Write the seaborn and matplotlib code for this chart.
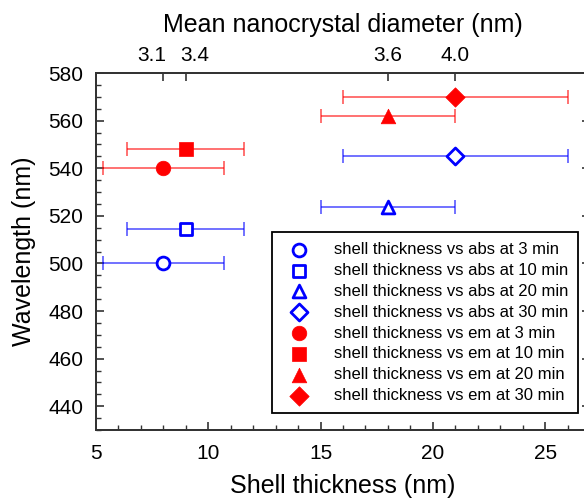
import numpy as np
import pandas as pd
import matplotlib
matplotlib.use("Agg")
import matplotlib.pyplot as plt
from matplotlib.ticker import MultipleLocator, FixedLocator
from matplotlib.transforms import ScaledTranslation
import seaborn as sns

# ---- data ----
times = ["3 min", "10 min", "20 min", "30 min"]
shell_thickness = [8, 9, 18, 21]
shell_err = [2.7, 2.6, 3.0, 5.0]
abs_wavelength = [500, 514.5, 523.5, 545]
em_wavelength = [540, 548, 562, 570]
markers = ["o", "s", "^", "D"]
diameter_labels = ["3.1", "3.4", "3.6", "4.0"]

sns.set_theme(style="ticks")
plt.rcParams["font.family"] = ["Liberation Sans", "DejaVu Sans"]
plt.rcParams["text.color"] = "black"
plt.rcParams["axes.labelcolor"] = "black"
plt.rcParams["xtick.labelcolor"] = "black"
plt.rcParams["ytick.labelcolor"] = "black"

fig = plt.figure(figsize=(5.84, 4.99), dpi=100)
ax = fig.add_axes([96 / 584, 1 - 430 / 499, (590 - 96) / 584, (430 - 73) / 499])

blue = "#0000FF"
red = "#FF0000"

# error bars
for xs, ys, col in [(shell_thickness, abs_wavelength, blue), (shell_thickness, em_wavelength, red)]:
    ax.errorbar(xs, ys, xerr=shell_err, fmt="none", ecolor=col, alpha=0.65,
                elinewidth=1.2, capsize=5, capthick=1.2, zorder=2)

sizes = {"o": 85, "s": 70, "^": 85, "D": 75}
for t, x, y, m in zip(times, shell_thickness, abs_wavelength, markers):
    df = pd.DataFrame({"x": [x], "y": [y]})
    sns.scatterplot(data=df, x="x", y="y", ax=ax, marker=m, s=sizes[m],
                    facecolor="white", edgecolor=blue, linewidth=2,
                    label=f"shell thickness vs abs at {t}", zorder=3)
for t, x, y, m in zip(times, shell_thickness, em_wavelength, markers):
    df = pd.DataFrame({"x": [x], "y": [y]})
    sns.scatterplot(data=df, x="x", y="y", ax=ax, marker=m, s=sizes[m] * 1.3,
                    color=red, edgecolor=red, linewidth=0.5,
                    label=f"shell thickness vs em at {t}", zorder=3)

ax.set_xlim(5, 27)
ax.set_ylim(430, 580)
ax.xaxis.set_major_locator(FixedLocator([5, 10, 15, 20, 25]))
ax.xaxis.set_minor_locator(MultipleLocator(1))
ax.yaxis.set_major_locator(MultipleLocator(20))
ax.yaxis.set_minor_locator(MultipleLocator(5))
ax.set_yticks(np.arange(440, 581, 20))
ax.tick_params(axis="both", which="major", direction="in", length=6, width=1.2,
               labelsize=15, color="#333333", right=True, top=False)
ax.tick_params(axis="both", which="minor", direction="in", length=3.5, width=1.0,
               color="#333333", right=False, top=False)
ax.tick_params(axis="x", pad=10)
ax.tick_params(axis="y", pad=9)
for sp in ax.spines.values():
    sp.set_visible(True)
    sp.set_linewidth(1.3)
    sp.set_color("#333333")

ax.set_xlabel("Shell thickness (nm)", fontsize=18, labelpad=8)
ax.set_ylabel("Wavelength (nm)", fontsize=18, labelpad=9)

ax2 = ax.twiny()
ax2.set_xlim(ax.get_xlim())
ax2.set_xticks(shell_thickness)
ax2.set_xticklabels(diameter_labels)
ax2.tick_params(axis="x", which="major", direction="in", length=6, width=1.2,
                labelsize=15, color="#333333", pad=6)
ax2.set_xlabel("Mean nanocrystal diameter (nm)", fontsize=18, labelpad=10)
for sp in ax2.spines.values():
    sp.set_linewidth(1.3)
    sp.set_color("#333333")
# nudge crowded top labels apart
lbls = ax2.get_xticklabels()
lbls[0].set_horizontalalignment("right")
lbls[0].set_transform(lbls[0].get_transform() + ScaledTranslation(2 / 72, 0, fig.dpi_scale_trans))
lbls[1].set_horizontalalignment("left")
lbls[1].set_transform(lbls[1].get_transform() + ScaledTranslation(-4 / 72, 0, fig.dpi_scale_trans))

leg = ax.legend(loc="lower left", bbox_to_anchor=((272 - 96) / 494, (430 - 413) / 357),
                fontsize=12, frameon=True, fancybox=False, edgecolor="black",
                framealpha=1, borderpad=0.6, labelspacing=0.35, handletextpad=1.1,
                handlelength=2.0, borderaxespad=0)
leg.get_frame().set_linewidth(1.3)

fig.savefig("out.png", dpi=100)
